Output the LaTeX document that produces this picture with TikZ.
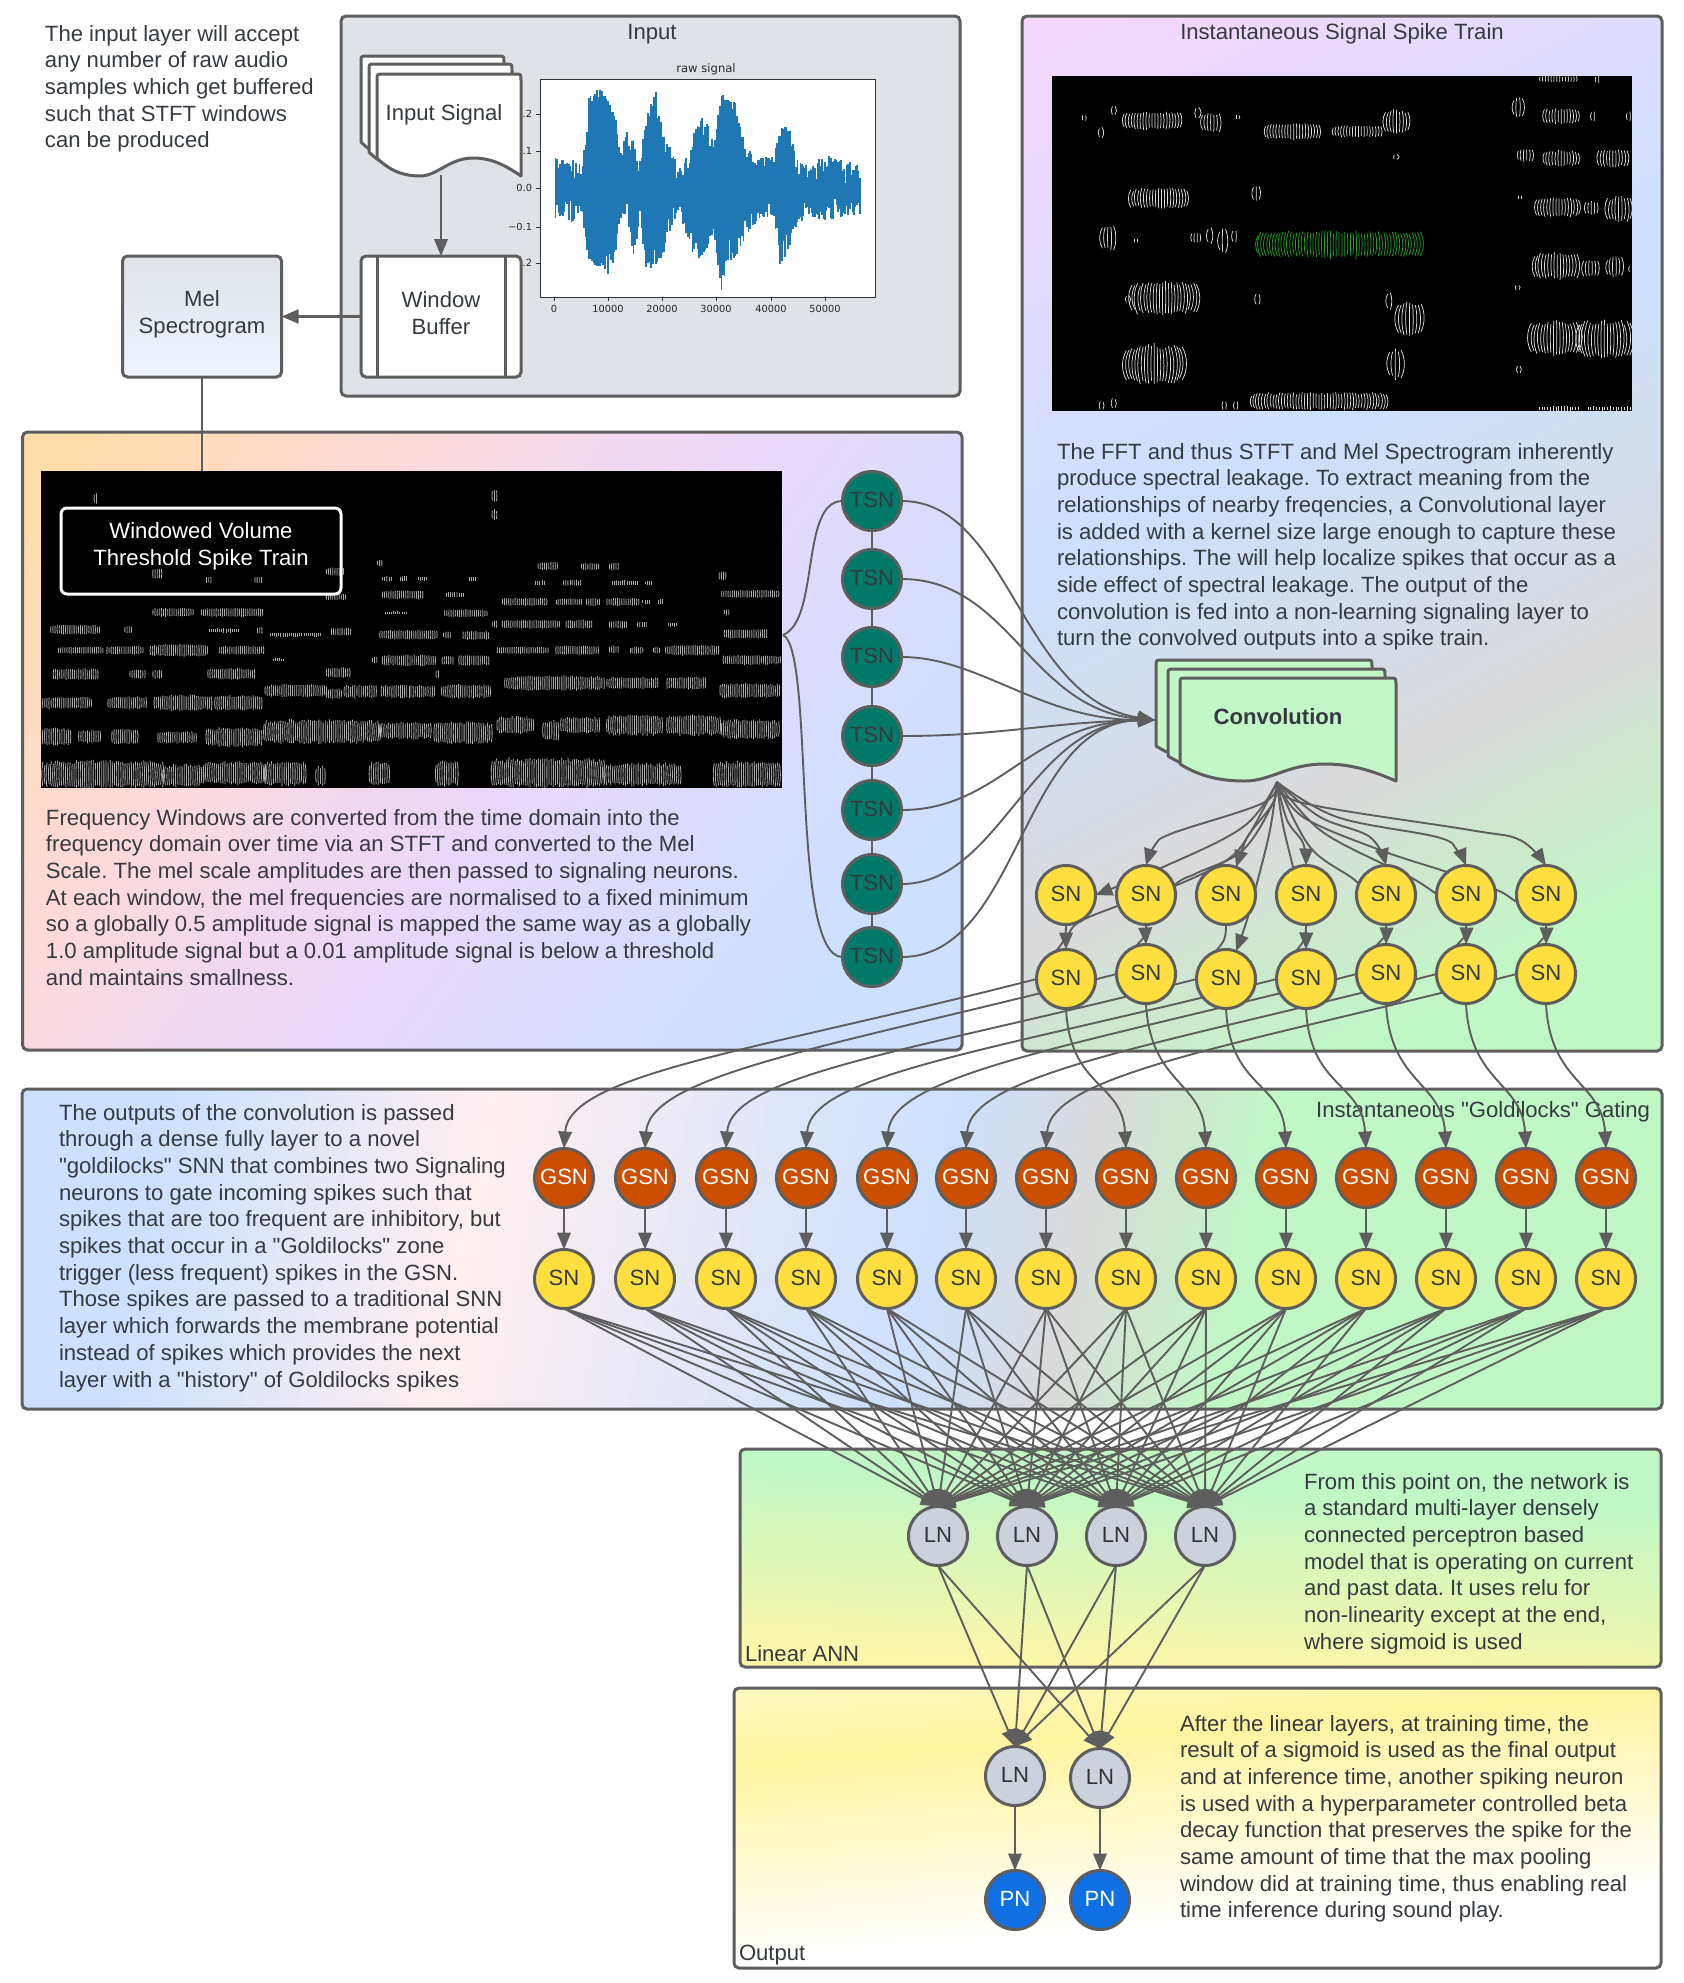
\documentclass[tikz,border=0pt]{standalone}
\usepackage{fontspec}
\setmainfont{Liberation Sans}
\newfontfamily\bodyfont{Liberation Sans}
\newfontfamily\chartfont{DejaVu Sans}
\usetikzlibrary{arrows.meta,calc}
\definecolor{edgecol}{HTML}{5E5E5E}
\definecolor{txt}{HTML}{353A40}
\definecolor{inputbg}{HTML}{DFE3E8}
\definecolor{tsnfill}{HTML}{00796B}
\definecolor{snfill}{HTML}{FFDF3F}
\definecolor{gsnfill}{HTML}{CC4E00}
\definecolor{lnfill}{HTML}{CBD2DC}
\definecolor{pnfill}{HTML}{0F6FE3}
\definecolor{docgreen}{HTML}{C3F7C8}
\definecolor{chartblue}{HTML}{1F77B4}
\definecolor{boxmid}{HTML}{F9FAFB}
\definecolor{boxlow}{HTML}{EEF5FF}
\definecolor{cOrange}{HTML}{FFDDA8}
\definecolor{cPink}{HTML}{FDD9DC}
\definecolor{cLav}{HTML}{E9D8FB}
\definecolor{cLavB}{HTML}{F3D7FC}
\definecolor{cBlue}{HTML}{CCE0FF}
\definecolor{cGray}{HTML}{DADADA}
\definecolor{cGreen}{HTML}{C1F7C5}
\definecolor{cRose}{HTML}{FFF0F0}
\definecolor{cYel}{HTML}{FFF7A8}
\definecolor{cYelB}{HTML}{FFF8C0}
\definecolor{cYelC}{HTML}{FFF4A0}
\definecolor{cWhite}{HTML}{FFFFFF}
\definecolor{melstripe}{HTML}{ACACAC}
\definecolor{inststripe}{HTML}{DCDCDC}
\definecolor{instgreen}{HTML}{12B012}
\pgfdeclarelayer{panels}
\pgfdeclarelayer{edges}
\pgfsetlayers{panels,edges,main}
\frenchspacing
\newcommand\gradpanel[8]{%
  \begin{scope}
  \clip[rounded corners=2.5pt] (#1,#2) rectangle (#3,#4);
  \fill[#7] (#1,#2) rectangle (#3,#4);
  \pgfmathsetmacro\dxL{(#5)*4000}%
  \pgfmathsetmacro\dyL{(#6)*4000}%
  \foreach \ta/\ca/\tb/\cb in {#8}{%
    \foreach \k in {1,...,30}{%
      \pgfmathsetmacro\gt{\ta+(\tb-\ta)*\k/30}%
      \pgfmathsetmacro\gp{100*\k/30}%
      \pgfmathsetmacro\gx{#1+(#5)*\gt}%
      \pgfmathsetmacro\gy{#2+(#6)*\gt}%
      \fill[color=\cb!\gp!\ca] (\gx-\dyL,\gy+\dxL) -- (\gx+\dyL,\gy-\dxL)
        -- (\gx+\dyL+\dxL,\gy-\dxL+\dyL) -- (\gx-\dyL+\dxL,\gy+\dxL+\dyL) -- cycle;
    }}
  \end{scope}
  \path[panelbox] (#1,#2) rectangle (#3,#4);}
\newcommand\stripeblob[8]{% x0 x1 yc h gap colour width curvature
  \pgfmathsetmacro\sbm{#1+#5}%
  \foreach \sx in {#1,\sbm,...,#2}{%
    \pgfmathsetmacro\su{2*(\sx-#1)/(#2-#1+0.01)-1}%
    \pgfmathsetmacro\sh{(#4)/2*(0.62+0.18*sqrt(max(0,1-\su*\su))+0.25*rnd)}%
    \pgfmathsetmacro\sc{\su*\sh*#8}%
    \pgfmathsetmacro\sj{0.5*(#4)*(rnd-0.5)*0.12}%
    \draw[line width=#7,color=#6] (\sx,#3+\sj-\sh) .. controls (\sx+\sc,#3+\sj-0.4*\sh) and (\sx+\sc,#3+\sj+0.4*\sh) .. (\sx,#3+\sj+\sh);
  }}
\newcommand\melblob[4]{%
  \pgfmathsetmacro\bxa{#1/1.96}\pgfmathsetmacro\bxb{#2/1.96}%
  \pgfmathsetmacro\byc{420+#3/2.376}\pgfmathsetmacro\byh{#4/2.376}%
  \stripeblob{\bxa}{\bxb}{\byc}{\byh}{2.1}{melstripe}{0.42pt}{0.12}}
\newcommand\instblob[5]{%
  \pgfmathsetmacro\bxa{1000+#1/2.296}\pgfmathsetmacro\bxb{1000+#2/2.296}%
  \pgfmathsetmacro\byc{#3/2.306}\pgfmathsetmacro\byh{#4/2.306}%
  \stripeblob{\bxa}{\bxb}{\byc}{\byh}{2.8}{#5}{0.38pt}{0.35}}
\newcommand\docshape[6]{%
  \pgfmathsetmacro\dw{#2-#1}%
  \draw[docline,fill=#6] (#1,#4) -- (#1,#3+6) .. controls (#1,#3) .. (#1+6,#3) -- (#2-6,#3) .. controls (#2,#3) .. (#2,#3+6) -- (#2,#4+#5)
   .. controls (#1+0.9*\dw,#4+0.45*#5) and (#1+0.8*\dw,#4) .. (#1+0.67*\dw,#4)
   .. controls (#1+0.5*\dw,#4) and (#1+0.42*\dw,#4+#5) .. (#1+0.3*\dw,#4+#5)
   .. controls (#1+0.2*\dw,#4+#5) and (#1+0.1*\dw,#4+0.8*#5) .. (#1,#4) -- cycle;}
\tikzset{
  every node/.style={font=\bodyfont\fontsize{11.05}{13.35}\selectfont,text=txt,inner sep=0pt,outer sep=0pt},
  >={Triangle[length=8.5pt,width=6.8pt]},
  panelbox/.style={draw=edgecol,line width=1.5pt,rounded corners=2.5pt},
  docline/.style={draw=edgecol,line width=1.5pt,line join=round},
  edge/.style={draw=edgecol,line width=0.95pt},
  arrowedge/.style={edge,->,color=edgecol},
  neuron/.style={circle,draw=edgecol,line width=1.5pt,minimum size=29.5pt,text depth=1.4pt},
  tsn/.style={neuron,fill=tsnfill},
  sn/.style={neuron,fill=snfill},
  gsn/.style={neuron,fill=gsnfill,text=white},
  ln/.style={neuron,fill=lnfill,text=black!80},
  pn/.style={neuron,fill=pnfill,text=white},
  para/.style={anchor=north west,align=left},
  chartlab/.style={font=\chartfont\fontsize{4.9}{6}\selectfont,text=black!85},
}
\begin{document}
\begin{tikzpicture}[x=0.5pt,y=-0.5pt]
\useasboundingbox (0,0) rectangle (1683,1983);
\pgfmathsetseed{7}
%----------------------- neurons
\foreach \i/\y in {1/501,2/579,3/657,4/736,5/810,6/884,7/957}{\node[tsn] (tsn\i) at (872,\y) {TSN};}
\foreach \i/\x in {1/1066,2/1146,3/1226,4/1306,5/1386,6/1466,7/1546}{\node[sn] (s\i) at (\x,895) {SN};}
\foreach \i/\x/\y in {1/1066/979,2/1146/974,3/1226/979,4/1306/979,5/1386/974,6/1466/974,7/1546/974}{\node[sn] (r\i) at (\x,\y) {SN};}
\foreach \i/\x in {1/564,2/645,3/726,4/806,5/887,6/966,7/1046,8/1126,9/1206,10/1286,11/1366,12/1446,13/1526,14/1606}{
  \node[gsn] (gsn\i) at (\x,1178) {GSN};
  \node[sn] (gs\i) at (\x,1279) {SN};}
\foreach \i/\x in {1/938,2/1027,3/1116,4/1205}{\node[ln] (la\i) at (\x,1536) {LN};}
\node[ln] (lb1) at (1015,1776) {LN};
\node[ln] (lb2) at (1100,1778) {LN};
\node[pn] (pn1) at (1015,1900) {PN};
\node[pn] (pn2) at (1100,1900) {PN};
%----------------------- panels, images and texts
\begin{pgfonlayer}{panels}
\path[panelbox,fill=inputbg] (341,16) rectangle (960,396);
\gradpanel{22.5}{432}{962}{1050}{0.8}{0.6}{cOrange}{40/cOrange/329/cPink,329/cPink/594/cLav,594/cLav/960/cBlue}
\gradpanel{1022}{16}{1662}{1051}{0.45}{0.89}{cLavB}{40/cLavB/490/cBlue,490/cBlue/835/cGray,835/cGray/1064/cGreen}
\gradpanel{22}{1089}{1662}{1409}{0.98}{0.2}{cBlue}{142/cBlue/461/cRose,461/cRose/914/cBlue,914/cBlue/1064/cGray,1064/cGray/1223/cGreen}
\gradpanel{740}{1449}{1661}{1667}{-0.05}{0.999}{cGreen}{15/cGreen/204/cYel}
\gradpanel{734}{1688}{1661}{1968}{0.08}{0.997}{cYelB}{0/cYelB/75/cYelC,75/cYelC/270/cWhite}
% chart
\node[rectangle,fill=white,draw=black!80,line width=0.5pt,minimum width=167.5pt,minimum height=109pt] (chart) at (707.5,188) {};
\begin{scope}[line width=0.85pt,color=chartblue]
\def\wpx{870}\def\wpt{475}\def\wpb{650}
\foreach \wx/\wt/\wb in {880/490/640,900/490/660,915/510/640,925/300/770,940/270/790,955/310/810,965/340/770,975/470/650,985/400/640,995/430/760,1005/480/650,1015/350/790,1030/285/800,1040/400/760,1050/440/700,1065/510/620,1080/480/720,1095/370/770,1110/360/740,1120/450/680,1133/290/860,1145/310/770,1155/310/770,1170/440/700,1185/490/660,1200/480/640,1215/480/640,1225/385/790,1240/390/730,1250/490/670,1270/510/640,1295/475/650,1320/490/640,1350/505/630}{
  \pgfmathtruncatemacro\wn{max(2,(\wx-\wpx)/2.2)}
  \foreach \k in {1,...,\wn}{
    \pgfmathsetmacro\wf{\k/\wn}
    \pgfmathsetmacro\wX{(\wpx+(\wx-\wpx)*\wf)/1.568-1}
    \pgfmathsetmacro\wT{(\wpt+(\wt-\wpt)*\wf+70*rnd*rnd-12)/3}
    \pgfmathsetmacro\wB{(\wpb+(\wb-\wpb)*\wf-70*rnd*rnd+12)/3}
    \draw (\wX,\wT) -- (\wX,\wB);
  }
  \global\let\wpx\wx\global\let\wpt\wt\global\let\wpb\wb
}
\end{scope}
\node[chartlab,font=\chartfont\fontsize{5.8}{7}\selectfont] (charttitle) at (706,69) {raw signal};
\foreach \n/\x/\l in {a/554/0,b/608/10000,c/662/20000,d/716/30000,e/771/40000,f/825/50000}{
  \draw[line width=0.4pt,black!80] (\x,297) -- (\x,301);
  \node[chartlab] (xt\n) at (\x,309) {\l};}
\foreach \n/\y/\l in {a/114/0.2,b/151/0.1,c/188/0.0,d/227/−0.1,e/263/−0.2}{
  \draw[line width=0.4pt,black!80] (536,\y) -- (540,\y);
  \node[chartlab,anchor=east] (yt\n) at (532,\y) {\l};}
% mel image
\node[rectangle,fill=black,minimum width=370.5pt,minimum height=158.5pt] (melimg) at (411.5,629) {};
\begin{scope}
\clip (41,470.5) rectangle (782,787.5);
\foreach \a/\b/\c/\d in {185/192/187/25,965/975/180/30,965/975/225/25,1055/1095/347/18,1140/1175/348/16,1195/1215/348/18,740/750/340/15,1410/1425/370/20,750/770/377/12,785/800/377/12,820/840/377/10,920/935/378/12,1050/1070/387/12,1105/1140/387/14,1200/1250/387/12,1265/1280/387/10,300/320/365/25,405/415/380/15,500/515/380/15,640/675/360/20,640/680/420/15,750/830/415/20,875/910/415/12,1415/1530/413/18,985/1075/432/18,1090/1140/432/16,1150/1175/432/18,1190/1255/432/18,1260/1275/432/10,1290/1300/432/12,300/380/457/20,395/515/457/20,755/800/458/6,872/955/459/18,1420/1430/457/15,985/1100/485/20,1110/1160/485/20,1195/1230/486/18,1250/1270/486/14,1310/1330/486/10,965/975/485/18,100/195/498/22,245/258/498/16,410/470/500/10,505/517/500/16,530/630/510/10,650/690/503/18,745/858/510/22,870/885/511/16,908/960/512/20,1420/1505/508/22,115/205/547/16,210/280/547/20,295/410/547/28,430/520/547/20,975/1075/547/16,1090/1175/547/22,1195/1215/545/18,1235/1260/547/16,1280/1295/547/14,1305/1408/547/24,535/558/570/8,730/740/570/16,750/855/571/26,867/890/571/22,900/960/571/24,1418/1530/570/22,105/195/604/26,255/285/604/20,300/320/604/20,408/500/603/26,640/688/600/24,855/862/604/22,990/1185/625/34,1190/1290/625/28,1308/1385/625/30,520/640/643/30,640/670/650/24,675/738/645/30,748/855/645/30,866/963/645/32,1412/1530/643/34,80/180/672/28,212/290/672/30,303/415/672/38,422/515/672/36,80/140/752/40,155/200/752/30,220/270/752/36,310/385/754/28,405/515/754/46,518/745/740/56,745/845/738/40,852/965/743/52,975/1045/725/40,1065/1095/738/50,1100/1178/725/38,1190/1300/725/48,1308/1412/725/48,1415/1530/735/46,80/320/842/66,320/400/845/52,400/520/838/54,520/600/840/58,620/640/845/45,725/765/840/58,855/900/840/62,965/1185/838/70,1185/1335/842/54,1400/1530/842/62}{\melblob\a\b\c\d}
\end{scope}
\node[rectangle,draw=white,line width=1.5pt,rounded corners=3pt,minimum width=140pt,minimum height=43pt] (melbadge) at (201,551) {};
\node[text=white,align=center] (melbadgetext) at (201,546.5) {Windowed Volume\\Threshold Spike Train};
% instantaneous image
\node[rectangle,fill=black,minimum width=290pt,minimum height=167.5pt] (instimg) at (1342,243.5) {};
\begin{scope}
\clip (1052,76) rectangle (1632,411);
\foreach \a/\b/\c/\d in {190/196/272/15,258/264/255/25,228/234/305/30,285/420/278/40,450/455/260/35,465/510/283/45,542/546/270/10,610/735/303/36,765/880/303/25,885/940/280/55,905/908/362/14,1180/1200/248/50,1250/1330/268/34,1358/1370/268/22,1440/1450/268/22,1240/1325/182/14,1368/1380/184/16,1190/1225/358/30,1250/1330/365/34,1375/1440/365/40,300/435/457/46,582/596/445/40,1190/1195/455/10,1232/1330/478/44,1345/1375/480/30,1395/1451/482/58,235/265/548/58,308/312/555/8,440/465/548/20,478/485/543/40,505/520/555/55,535/545/545/30,1228/1330/613/60,1340/1375/618/40,1395/1430/615/48,1445/1451/620/20,290/295/690/20,303/455/687/76,588/595/690/28,890/898/695/40,915/970/735/80,1185/1189/663/14,1220/1330/780/80,1330/1451/782/85,290/420/840/90,895/922/840/70,1188/1194/852/22,230/236/935/22,258/264/930/30,512/520/935/22,538/546/935/20,578/888/925/40,1238/1330/942/10,1350/1451/942/10}{\instblob\a\b\c\d{inststripe}}
\instblob{592}{970}{563}{62}{instgreen}
\end{scope}
% texts
\node[para] (t1) at (45,25) {The input layer will accept\\any number of raw audio\\samples which get buffered\\such that STFT windows\\can be produced};
\node (inputtitle) at (652,34) {Input};
\node (insttitle) at (1342,34) {Instantaneous Signal Spike Train};
\node[para] (t2) at (1057,443) {The FFT and thus STFT and Mel Spectrogram inherently\\produce spectral leakage. To extract meaning from the\\relationships of nearby freqencies, a Convolutional layer\\is added with a kernel size large enough to capture these\\relationships. The will help localize spikes that occur as a\\side effect of spectral leakage. The output of the\\convolution is fed into a non-learning signaling layer to\\turn the convolved outputs into a spike train.};
\node[para] (t3) at (46,809) {Frequency Windows are converted from the time domain into the\\frequency domain over time via an STFT and converted to the Mel\\Scale. The mel scale amplitudes are then passed to signaling neurons.\\At each window, the mel frequencies are normalised to a fixed minimum\\so a globally 0.5 amplitude signal is mapped the same way as a globally\\1.0 amplitude signal but a 0.01 amplitude signal is below a threshold\\and maintains smallness.};
\node[para] (t4) at (59,1104) {The outputs of the convolution is passed\\through a dense fully layer to a novel\\"goldilocks" SNN that combines two Signaling\\neurons to gate incoming spikes such that\\spikes that are too frequent are inhibitory, but\\spikes that occur in a "Goldilocks" zone\\trigger (less frequent) spikes in the GSN.\\Those spikes are passed to a traditional SNN\\layer which forwards the membrane potential\\instead of spikes which provides the next\\layer with a "history" of Goldilocks spikes};
\node[anchor=east] (goldtitle) at (1650,1112) {Instantaneous "Goldilocks" Gating};
\node[para] (t5) at (1304,1473) {From this point on, the network is\\a standard multi-layer densely\\connected perceptron based\\model that is operating on current\\and past data. It uses relu for\\non-linearity except at the end,\\where sigmoid is used};
\node[anchor=west] (lintitle) at (745,1654) {Linear ANN};
\node[para] (t6) at (1180,1715) {After the linear layers, at training time, the\\result of a sigmoid is used as the final output\\and at inference time, another spiking neuron\\is used with a hyperparameter controlled beta\\decay function that preserves the spike for the\\same amount of time that the max pooling\\window did at training time, thus enabling real\\time inference during sound play.};
\node[anchor=west] (outtitle) at (739,1955) {Output};
\end{pgfonlayer}
%----------------------- boxes
\docshape{361}{504}{56}{142}{18}{white}
\docshape{369}{512}{64}{152}{18}{white}
\docshape{377}{521}{74}{158}{18}{white}
\node (insig) at (444,115) {Input Signal};
\coordinate (insigout) at (441,175);
\node[rectangle,draw=edgecol,line width=1.5pt,rounded corners=2.5pt,fill=white,minimum width=80pt,minimum height=60.5pt] (wbuf) at (441,316.5) {};
\node[align=center] (wbuftext) at (441,313) {Window\\Buffer};
\draw[edgecol,line width=1.5pt] ($(wbuf.north west)+(16,0)$) -- ($(wbuf.south west)+(16,0)$);
\draw[edgecol,line width=1.5pt] ($(wbuf.north east)+(-16,0)$) -- ($(wbuf.south east)+(-16,0)$);
\node[rectangle,draw=edgecol,line width=1.5pt,rounded corners=2.5pt,top color=inputbg,middle color=boxmid,bottom color=boxlow,minimum width=79.5pt,minimum height=60.5pt] (melbox) at (202,316.5) {};
\node[align=center] (melboxtext) at (202,314) {Mel\\Spectrogram};
\docshape{1156}{1372}{660}{746}{17}{docgreen}
\docshape{1168}{1385}{669}{756}{17}{docgreen}
\docshape{1180}{1396}{678}{764}{17}{docgreen}
\node[font=\bodyfont\bfseries\fontsize{11.05}{13.35}\selectfont] (convlabel) at (1278,717) {Convolution};
\coordinate (convin) at (1155,720);
\coordinate (convout) at (1277,782);
\coordinate (melout) at (783,635);
%----------------------- connectors
\begin{pgfonlayer}{edges}
\draw[arrowedge] (insigout) -- (wbuf.north);
\draw[arrowedge,line width=1.5pt] (wbuf.west) -- (melbox.east);
\draw[edge] (melbox.south) -- (melbox.south |- melimg.north);
\draw[edge] (melout) .. controls (820,620) and (800,501) .. (tsn1.west);
\draw[edge] (melout) .. controls (815,650) and (790,957) .. (tsn7.west);
\foreach \a/\b in {1/2,2/3,3/4,4/5,5/6,6/7}{\draw[edge] (tsn\a) -- (tsn\b);}
\draw[arrowedge] (tsn1.east) .. controls (1010,501) and (1020,700) .. (convin);
\draw[arrowedge] (tsn2.east) .. controls (1010,579) and (1030,710) .. (convin);
\draw[arrowedge] (tsn3.east) .. controls (980,657) and (1040,720) .. (convin);
\draw[arrowedge] (tsn4.east) .. controls (1000,736) and (1050,722) .. (convin);
\draw[arrowedge] (tsn5.east) .. controls (1000,810) and (1030,722) .. (convin);
\draw[arrowedge] (tsn6.east) .. controls (1000,884) and (1030,722) .. (convin);
\draw[arrowedge] (tsn7.east) .. controls (1020,957) and (1020,722) .. (convin);
% convolution to first row
\draw[arrowedge] plot[smooth,tension=0.6] coordinates {(convout) (1243,827) (1161,868) (s1.east)};
\draw[arrowedge] plot[smooth,tension=0.6] coordinates {(convout) (1263,803) (1173,833) (1155,845) (s2.north)};
\draw[arrowedge] plot[smooth,tension=0.6] coordinates {(convout) (1273,803) (1250,833) (1243,847) (s3.70)};
\draw[arrowedge] plot[smooth,tension=0.6] coordinates {(convout) (1287,820) (1303,843) (s4.north)};
\draw[arrowedge] plot[smooth,tension=0.6] coordinates {(convout) (1320,817) (1370,837) (s5.north)};
\draw[arrowedge] plot[smooth,tension=0.6] coordinates {(convout) (1337,817) (1437,837) (1457,850) (s6.north)};
\draw[arrowedge] plot[smooth,tension=0.6] coordinates {(convout) (1303,803) (1470,830) (1520,840) (s7.north)};
% convolution to second row
\draw[arrowedge] plot[smooth,tension=0.6] coordinates {(convout) (1250,833) (1227,860) (1177,885) (1120,905) (1075,925) (r1.north)};
\draw[arrowedge] plot[smooth,tension=0.6] coordinates {(convout) (1273,803) (1243,850) (1197,873) (1177,883) (1150,910) (r2.north)};
\draw[arrowedge] plot[smooth,tension=0.6] coordinates {(convout) (1270,830) (1257,883) (1247,920) (r3.70)};
\draw[arrowedge] plot[smooth,tension=0.6] coordinates {(convout) (1282,820) (1293,867) (1305,915) (1306,930) (r4.north)};
\draw[arrowedge] plot[smooth,tension=0.6] coordinates {(convout) (1310,847) (1357,882) (1384,915) (1386,930) (r5.north)};
\draw[arrowedge] plot[smooth,tension=0.6] coordinates {(convout) (1320,830) (1385,865) (1412,878) (1435,893) (1464,915) (1466,930) (r6.north)};
\draw[arrowedge] plot[smooth,tension=0.6] coordinates {(convout) (1303,817) (1380,850) (1447,872) (1497,890) (1517,902) (1544,915) (1546,930) (r7.north)};
\foreach \i in {1,...,7}{
  \draw[edge] (s\i.south) .. controls +(0,15) and +(8,-10) .. (r\i.110);
  \pgfmathtruncatemacro\jj{\i+7}
  \draw[arrowedge] (r\i.west) .. controls +(-276,71) and +(5,-75) .. (gsn\i.north);
  \draw[arrowedge] (r\i.south) .. controls +(4,80) and +(-4,-67) .. (gsn\jj.north);
}
\foreach \i in {1,...,14}{
  \draw[arrowedge] (gsn\i) -- (gs\i);
  \foreach \j in {1,...,4}{\draw[arrowedge] (gs\i.south) -- (la\j.north);}
}
\foreach \i in {1,...,4}{\foreach \j in {1,2}{\draw[arrowedge] (la\i.south) -- (lb\j.north);}}
\draw[arrowedge] (lb1) -- (pn1);
\draw[arrowedge] (lb2) -- (pn2);
\end{pgfonlayer}
\end{tikzpicture}
\end{document}
